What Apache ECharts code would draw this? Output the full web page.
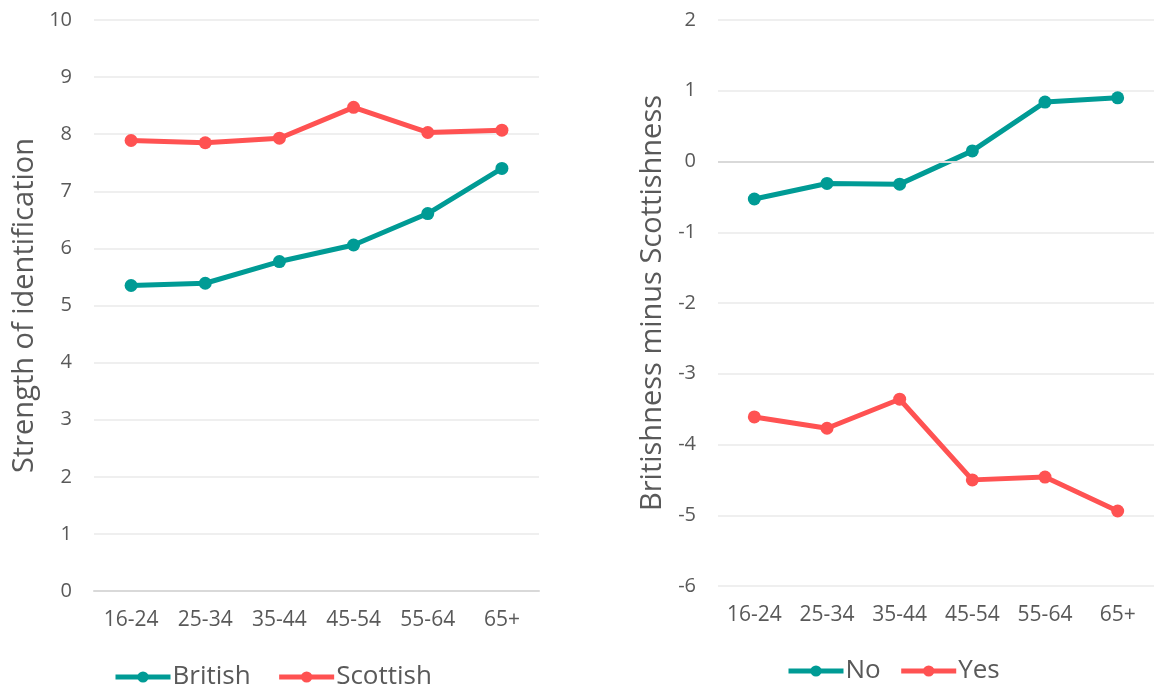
<!DOCTYPE html>
<html>
<head>
<meta charset="utf-8">
<script src="https://cdn.jsdelivr.net/npm/echarts@6/dist/echarts.min.js"></script>
<style>html,body{margin:0;padding:0;background:#fff}#c{width:1154px;height:689px}</style>
</head>
<body>
<div id="c"></div>
<script>
const categories = ['16-24','25-34','35-44','45-54','55-64','65+'];
const british = [5.35, 5.39, 5.77, 6.06, 6.61, 7.40];
const scottish = [7.89, 7.85, 7.93, 8.47, 8.03, 8.07];
const noVals = [-0.53, -0.31, -0.32, 0.15, 0.84, 0.90];
const yesVals = [-3.61, -3.77, -3.36, -4.50, -4.46, -4.94];
const leftTicks = {min: 0, max: 10, interval: 1};
const rightTicks = {min: -6, max: 2, interval: 1};

const TEAL = '#009B95', RED = '#FF5252', TXT = '#595959';
const FONT = '"Open Sans"';
const chart = echarts.init(document.getElementById('c'), null, {renderer: 'canvas'});

function xAxis(gi) {
  return {
    type: 'category', gridIndex: gi, data: categories, boundaryGap: true,
    axisLine: {show: gi === 0, onZero: false, lineStyle: {color: '#d9d9d9', width: 2}},
    axisTick: {show: false},
    axisLabel: {color: TXT, fontSize: 21, fontFamily: FONT, margin: 19}
  };
}
function yAxis(gi, t, name, gap) {
  return {
    type: 'value', gridIndex: gi, min: t.min, max: t.max, interval: t.interval,
    name: name, nameLocation: 'middle', nameGap: gap, nameRotate: 90,
    nameTextStyle: {color: TXT, fontSize: 29, fontFamily: FONT},
    axisLine: {show: false}, axisTick: {show: false},
    axisLabel: {color: TXT, fontSize: 20, fontFamily: FONT, margin: 22},
    splitLine: {lineStyle: {color: '#efefef', width: 2}}
  };
}
function line(name, data, color, xi, extra) {
  return Object.assign({
    name: name, type: 'line', data: data, xAxisIndex: xi, yAxisIndex: xi,
    color: color, symbol: 'circle', symbolSize: 13,
    lineStyle: {width: 5, color: color}, itemStyle: {color: color},
    animation: false
  }, extra || {});
}
const legendCommon = {
  itemWidth: 55, itemHeight: 14,
  lineStyle: {width: 5},
  textStyle: {color: TXT, fontSize: 26, fontFamily: FONT, padding: [0,0,0,-3]}
};

chart.setOption({
  backgroundColor: '#fff',
  animation: false,
  grid: [
    {left: 94, top: 20, width: 445, height: 571},
    {left: 718, top: 20, width: 442, height: 566}
  ],
  legend: [
    Object.assign({data: ['British','Scottish'], left: 108, top: 659, itemGap: 26}, legendCommon),
    Object.assign({data: ['No','Yes'], left: 781, top: 653, itemGap: 18}, legendCommon)
  ],
  xAxis: [xAxis(0), xAxis(1)],
  yAxis: [yAxis(0, leftTicks, 'Strength of identification', 55), yAxis(1, rightTicks, 'Britishness minus Scottishness', 51)],
  series: [
    line('British', british, TEAL, 0),
    line('Scottish', scottish, RED, 0),
    line('No', noVals, TEAL, 1, {markLine: {silent: true, symbol: 'none', label: {show: false},
      lineStyle: {color: '#d9d9d9', width: 2, type: 'solid'}, data: [{yAxis: 0}]}, z: 3}),
    line('Yes', yesVals, RED, 1)
  ]
});
</script>
</body>
</html>
